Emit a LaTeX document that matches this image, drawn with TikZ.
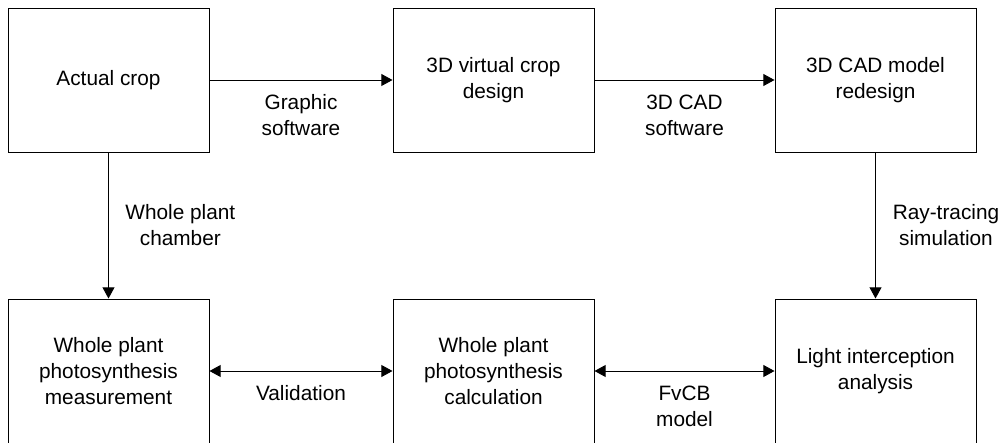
\documentclass[tikz,border=0pt]{standalone}
\usepackage{fontspec}
\setmainfont{Liberation Sans}
\usetikzlibrary{arrows.meta}

\begin{document}
\begin{tikzpicture}[
  box/.style={draw, line width=0.7pt, minimum width=5.025cm, minimum height=3.6cm, align=center, inner sep=0pt},
  arr/.style={line width=0.7pt, -{Triangle[length=0.28cm,width=0.3cm]}},
  dblarr/.style={line width=0.7pt, {Triangle[length=0.28cm,width=0.3cm]}-{Triangle[length=0.28cm,width=0.3cm]}},
  lbl/.style={align=center, inner sep=0pt},
  font=\fontsize{14.8}{18.5}\selectfont]
\path[use as bounding box, clip] (0,0) rectangle (25.125,11.05);
% top row
\node[box] (crop) at (2.7125,9.05) {Actual crop};
\node[box] (virtual) at (12.3375,9.05) {3D virtual crop\\design};
\node[box] (cad) at (21.8875,9.05) {3D CAD model\\redesign};
% bottom row
\node[box] (meas) at (2.7125,1.775) {Whole plant\\photosynthesis\\measurement};
\node[box] (calc) at (12.3375,1.775) {Whole plant\\photosynthesis\\calculation};
\node[box] (light) at (21.8875,1.775) {Light interception\\analysis};
% connectors
\draw[arr] (crop) -- (virtual) node[lbl, midway, below=0.35cm] {Graphic\\software};
\draw[arr] (virtual) -- (cad) node[lbl, midway, below=0.35cm] {3D CAD\\software};
\draw[arr] (crop) -- (meas) node[lbl, midway, right=0.41cm] {Whole plant\\chamber};
\draw[arr] (cad) -- (light) node[lbl, midway, right=0.42cm] {Ray-tracing\\simulation};
\draw[dblarr] (meas) -- (calc) node[lbl, midway, below=0.35cm] {Validation};
\draw[dblarr] (calc) -- (light) node[lbl, midway, below=0.35cm] {FvCB\\model};
\end{tikzpicture}
\end{document}
